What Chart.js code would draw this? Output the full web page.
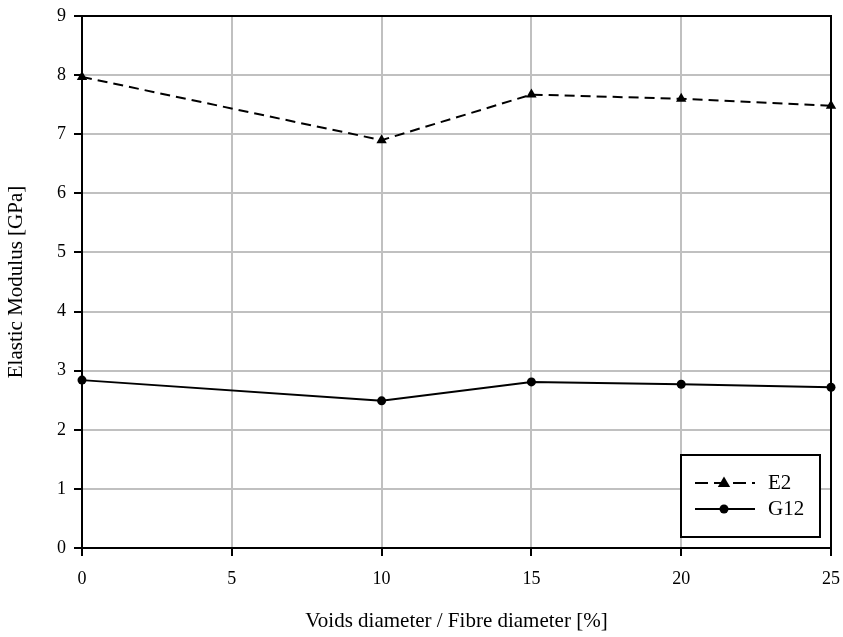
<!DOCTYPE html>
<html>
<head>
<meta charset="utf-8">
<script src="https://cdn.jsdelivr.net/npm/chart.js@4.4.1/dist/chart.umd.min.js"></script>
<style>
html,body{margin:0;padding:0;background:#fff;}
#wrap{width:843px;height:637px;}
</style>
</head>
<body>
<div id="wrap"><canvas id="c" width="843" height="637"></canvas></div>
<script>
const xValues = [0, 10, 15, 20, 25];
const e2Values = [7.97, 6.90, 7.67, 7.60, 7.48];
const g12Values = [2.84, 2.49, 2.81, 2.77, 2.72];
const seriesLabels = ['E2', 'G12'];
const xTicks = [0, 5, 10, 15, 20, 25];
const yTicks = [0, 1, 2, 3, 4, 5, 6, 7, 8, 9];
const xTitle = 'Voids diameter / Fibre diameter [%]';
const yTitle = 'Elastic Modulus [GPa]';

const FONT = '"Liberation Serif", "Times New Roman", serif';

const frameAndLegend = {
  id: 'frameAndLegend',
  afterDraw(chart) {
    const ctx = chart.ctx;
    const a = chart.chartArea;
    ctx.save();
    ctx.strokeStyle = '#000';
    ctx.lineWidth = 2;
    ctx.strokeRect(a.left, a.top, a.right - a.left, a.bottom - a.top);
    // legend
    const bx = 681, by = 455, bw = 139, bh = 82;
    ctx.fillStyle = '#fff';
    ctx.fillRect(bx, by, bw, bh);
    ctx.strokeRect(bx, by, bw, bh);
    chart.data.datasets.forEach((ds, i) => {
      const y = by + 28 + i * 26;
      ctx.beginPath();
      ctx.setLineDash(ds.borderDash ? [13, 6] : []);
      ctx.lineWidth = 2;
      ctx.moveTo(bx + 14, y);
      ctx.lineTo(bx + 74, y);
      ctx.stroke();
      ctx.setLineDash([]);
      ctx.fillStyle = '#000';
      const mx = bx + 43;
      if (ds.pointStyle === 'triangle') {
        const r = 6.5;
        ctx.beginPath();
        ctx.moveTo(mx, y - r);
        ctx.lineTo(mx + r * 0.95, y + r * 0.6);
        ctx.lineTo(mx - r * 0.95, y + r * 0.6);
        ctx.closePath();
        ctx.fill();
      } else {
        ctx.beginPath();
        ctx.arc(mx, y, 4.5, 0, Math.PI * 2);
        ctx.fill();
      }
      ctx.font = '21px ' + FONT;
      ctx.textBaseline = 'middle';
      ctx.textAlign = 'left';
      ctx.fillText(ds.label, bx + 87, y);
    });
    ctx.restore();
  }
};

new Chart(document.getElementById('c'), {
  type: 'line',
  data: {
    datasets: [
      {
        label: seriesLabels[0],
        data: xValues.map((x, i) => ({x: x, y: e2Values[i]})),
        borderColor: '#000',
        backgroundColor: '#000',
        borderWidth: 2,
        borderDash: [10, 6],
        pointStyle: 'triangle',
        pointRadius: 6,
        pointBackgroundColor: '#000',
        pointBorderWidth: 0,
        tension: 0
      },
      {
        label: seriesLabels[1],
        data: xValues.map((x, i) => ({x: x, y: g12Values[i]})),
        borderColor: '#000',
        backgroundColor: '#000',
        borderWidth: 2,
        pointStyle: 'circle',
        pointRadius: 4.5,
        pointBackgroundColor: '#000',
        pointBorderWidth: 0,
        tension: 0
      }
    ]
  },
  options: {
    responsive: false,
    animation: false,
    clip: false,
    layout: {padding: {left: 0, right: 12, top: 16, bottom: 0}},
    plugins: {legend: {display: false}, tooltip: {enabled: false}},
    scales: {
      x: {
        type: 'linear',
        min: 0, max: 25,
        afterBuildTicks(s) { s.ticks = xTicks.map(v => ({value: v})); },
        afterFit(s) { s.height = 89; s.paddingLeft = 0; s.paddingRight = 0; },
        grid: {color: '#c0c0c0', lineWidth: 2, tickLength: 8, tickColor: '#000', tickWidth: 2},
        border: {color: '#000', width: 2},
        ticks: {color: '#000', font: {family: FONT, size: 18}, padding: 12, maxRotation: 0},
        title: {display: true, text: xTitle, color: '#000', font: {family: FONT, size: 21}, padding: {top: 0, bottom: 3}}
      },
      y: {
        type: 'linear',
        min: 0, max: 9,
        afterBuildTicks(s) { s.ticks = yTicks.map(v => ({value: v})); },
        afterFit(s) { s.width = 82; s.paddingTop = 0; s.paddingBottom = 0; },
        grid: {color: '#c0c0c0', lineWidth: 2, tickLength: 8, tickColor: '#000', tickWidth: 2},
        border: {color: '#000', width: 2},
        ticks: {color: '#000', font: {family: FONT, size: 18}, padding: 8},
        title: {display: true, text: yTitle, color: '#000', font: {family: FONT, size: 21}, padding: {top: 4, bottom: 0}}
      }
    }
  },
  plugins: [frameAndLegend]
});
</script>
</body>
</html>
